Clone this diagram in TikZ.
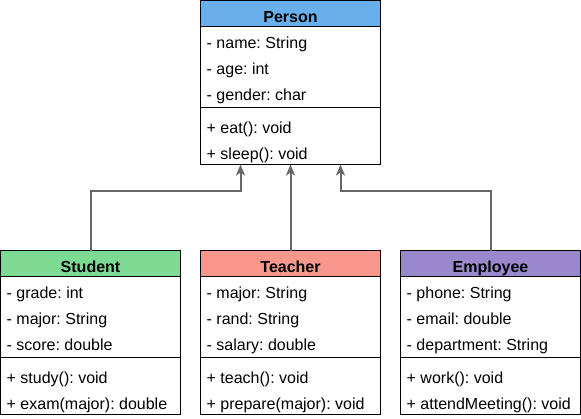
\documentclass[tikz,border=0pt]{standalone}
\usepackage{fontspec}
\setmainfont{Liberation Sans}
\usetikzlibrary{positioning,arrows.meta}
\definecolor{personblue}{RGB}{104,176,236}
\definecolor{studentgreen}{RGB}{125,218,146}
\definecolor{teacherred}{RGB}{247,150,138}
\definecolor{employeepurple}{RGB}{153,136,204}
\definecolor{arrowgrey}{RGB}{102,102,102}
\frenchspacing

\begin{document}
\begin{tikzpicture}[x=1pt,y=-1pt,
  every node/.style={font=\fontsize{16}{19}\selectfont, text height=15pt, text depth=3.5pt},
  head/.style={draw, line width=1pt, fill=#1, minimum width=180pt, minimum height=26pt,
    inner sep=0pt, outer sep=0pt, anchor=north west, text height=21pt,
    font=\fontsize{16}{19}\selectfont\bfseries},
  part/.style={draw, line width=1pt, minimum width=180pt, minimum height=#1, inner sep=0pt, outer sep=0pt},
  member/.style={anchor=west, inner sep=0pt},
  inherit/.style={draw=arrowgrey, line width=2pt, -{Stealth[length=11pt,width=9pt,inset=3pt]}}]
  \useasboundingbox (0,0) rectangle (581,418);
  % one class box: header, attributes, methods
  \foreach \name/\x/\y/\col/\title/\attrs/\meths in {
      person/200/0/personblue/Person/{name: String,age: int,gender: char}/{eat(): void,sleep(): void},
      student/0/250/studentgreen/Student/{grade: int,major: String,score: double}/{study(): void,exam(major): double},
      teacher/200/250/teacherred/Teacher/{major: String,rand: String,salary: double}/{teach(): void,prepare(major): void},
      employee/400/250/employeepurple/Employee/{phone: String,email: double,department: String}/{work(): void,attendMeeting(): void}} {
    \node[head=\col] (\name) at (\x+0.5,\y+0.5) {\title};
    \node[part=81pt, below=0pt of \name] (\name-attr) {};
    \node[part=57pt, below=0pt of \name-attr] (\name-meth) {};
    \foreach [count=\j] \a in \attrs
      \path (\name-attr.north west) ++(6,{16+26*(\j-1)}) node[member] (\name-a\j) {- \a};
    \foreach [count=\j] \m in \meths
      \path (\name-meth.north west) ++(6,{20+26*(\j-1)}) node[member] (\name-m\j) {+ \m};
  }
  % generalisation arrows
  \coordinate (tipL) at ([xshift=-50pt]person-meth.south);
  \coordinate (tipR) at ([xshift=50pt]person-meth.south);
  \draw[inherit] (student.north) -- ++(0,-60) -| (tipL);
  \draw[inherit] (teacher.north) -- (person-meth.south);
  \draw[inherit] (employee.north) -- ++(0,-60) -| (tipR);
\end{tikzpicture}
\end{document}
